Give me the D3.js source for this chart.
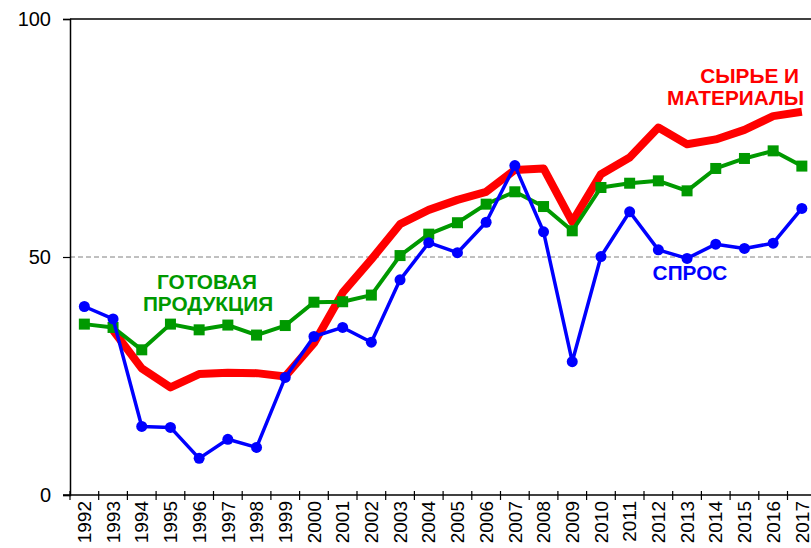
<!DOCTYPE html>
<html><head><meta charset="utf-8">
<script src="https://cdn.jsdelivr.net/npm/d3@7"></script>
<style>html,body{margin:0;padding:0;background:#fff;overflow:hidden}</style>
</head><body>
<svg id="chart" width="811" height="548"></svg>
<script>
const years = ["1992","1993","1994","1995","1996","1997","1998","1999","2000","2001","2002","2003","2004","2005","2006","2007","2008","2009","2010","2011","2012","2013","2014","2015","2016","2017"];
const rawMaterials = [null,34.6,26.6,22.6,25.4,25.7,25.6,24.9,31.9,42.5,49.5,56.9,59.9,62.0,63.7,68.3,68.6,57.4,67.4,70.9,77.2,73.7,74.7,76.7,79.6,80.5];
const finishedGoods = [35.9,35.2,30.5,35.9,34.7,35.7,33.6,35.6,40.5,40.6,42.0,50.3,54.8,57.2,61.1,63.7,60.6,55.5,64.6,65.5,66.0,63.9,68.6,70.7,72.3,69.1];
const demand = [39.6,37.0,14.4,14.2,7.7,11.7,10.0,24.7,33.3,35.2,32.1,45.2,53.0,50.9,57.3,69.2,55.3,28.0,50.1,59.5,51.5,49.7,52.7,51.8,52.9,60.2];
const yTicks = [0,50,100];

(function(){
const svg = d3.select("#chart");
const left = 70, topY = 19, bottomY = 495, bw = 28.7;
const x = d3.scaleBand().domain(years).range([left, left + bw * years.length]);
const y = d3.scaleLinear().domain([0, 100]).range([bottomY, topY]);
const cx = d => x(d) + x.bandwidth() / 2;

svg.append("line").attr("x1", left).attr("x2", 811).attr("y1", y(50)).attr("y2", y(50))
  .attr("stroke", "#808080").attr("stroke-width", 1).attr("stroke-dasharray", "5,3");
svg.append("line").attr("x1", left).attr("x2", 811).attr("y1", y(100)).attr("y2", y(100))
  .attr("stroke", "#000").attr("stroke-width", 1.5);

const yAxis = svg.append("g").attr("transform", `translate(${left},0)`)
  .call(d3.axisLeft(y).tickValues(yTicks).tickSize(7).tickPadding(12).tickFormat(d3.format("d")));
yAxis.select(".domain").attr("stroke-width", 1.5);
yAxis.selectAll(".tick line").attr("stroke-width", 1.2);
yAxis.selectAll("text").attr("font-family", "Liberation Sans, Arial, sans-serif").attr("font-size", 20).attr("fill", "#000");

const xAxis = svg.append("g").attr("transform", `translate(0,${bottomY})`)
  .call(d3.axisBottom(x).tickSize(0).tickPadding(0));
xAxis.select(".domain").attr("stroke-width", 1.5).attr("d", `M${left - 7},0H${left + bw * years.length}`);
const bounds = years.map((d) => x(d)).concat([left + bw * years.length]);
xAxis.selectAll(".btick").data(bounds).enter().append("line").attr("class", "btick")
  .attr("x1", d => d).attr("x2", d => d).attr("y1", -4).attr("y2", 5)
  .attr("stroke", "#000").attr("stroke-width", 1.2);
xAxis.selectAll(".tick text")
  .attr("font-family", "Liberation Sans, Arial, sans-serif").attr("font-size", 19).attr("fill", "#000")
  .attr("transform", "rotate(-90)").attr("text-anchor", "end")
  .attr("x", -6).attr("y", 0).attr("dy", "0.35em");

const line = d3.line().defined(d => d.v != null).x(d => cx(d.k)).y(d => y(d.v));
const mk = arr => years.map((k, i) => ({k, v: arr[i]}));

svg.append("path").datum(mk(rawMaterials)).attr("d", line).attr("fill", "none")
  .attr("stroke", "#ff0000").attr("stroke-width", 8).attr("stroke-linejoin", "round");

const g = mk(finishedGoods);
svg.append("path").datum(g).attr("d", line).attr("fill", "none")
  .attr("stroke", "#009900").attr("stroke-width", 4).attr("stroke-linejoin", "round");
svg.selectAll(".sq").data(g).enter().append("rect").attr("class", "sq")
  .attr("x", d => cx(d.k) - 5.5).attr("y", d => y(d.v) - 5.5).attr("width", 11).attr("height", 11)
  .attr("fill", "#009900");

const b = mk(demand);
svg.append("path").datum(b).attr("d", line).attr("fill", "none")
  .attr("stroke", "#0000ff").attr("stroke-width", 3.5).attr("stroke-linejoin", "round");
svg.selectAll(".dot").data(b).enter().append("circle").attr("class", "dot")
  .attr("cx", d => cx(d.k)).attr("cy", d => y(d.v)).attr("r", 5.5).attr("fill", "#0000ff");

const lab = (t, xx, yy, col, anchor) => svg.append("text").text(t).attr("x", xx).attr("y", yy)
  .attr("fill", col).attr("font-family", "Liberation Sans, Arial, sans-serif")
  .attr("font-weight", "bold").attr("font-size", 20.8).attr("text-anchor", anchor);
lab("ГОТОВАЯ", 207, 289, "#009900", "middle");
lab("ПРОДУКЦИЯ", 208, 311, "#009900", "middle");
lab("СПРОС", 690, 280, "#0000ff", "middle");
lab("СЫРЬЕ И", 799, 83, "#ff0000", "end");
lab("МАТЕРИАЛЫ", 804, 105, "#ff0000", "end");
})();
</script>
</body></html>
